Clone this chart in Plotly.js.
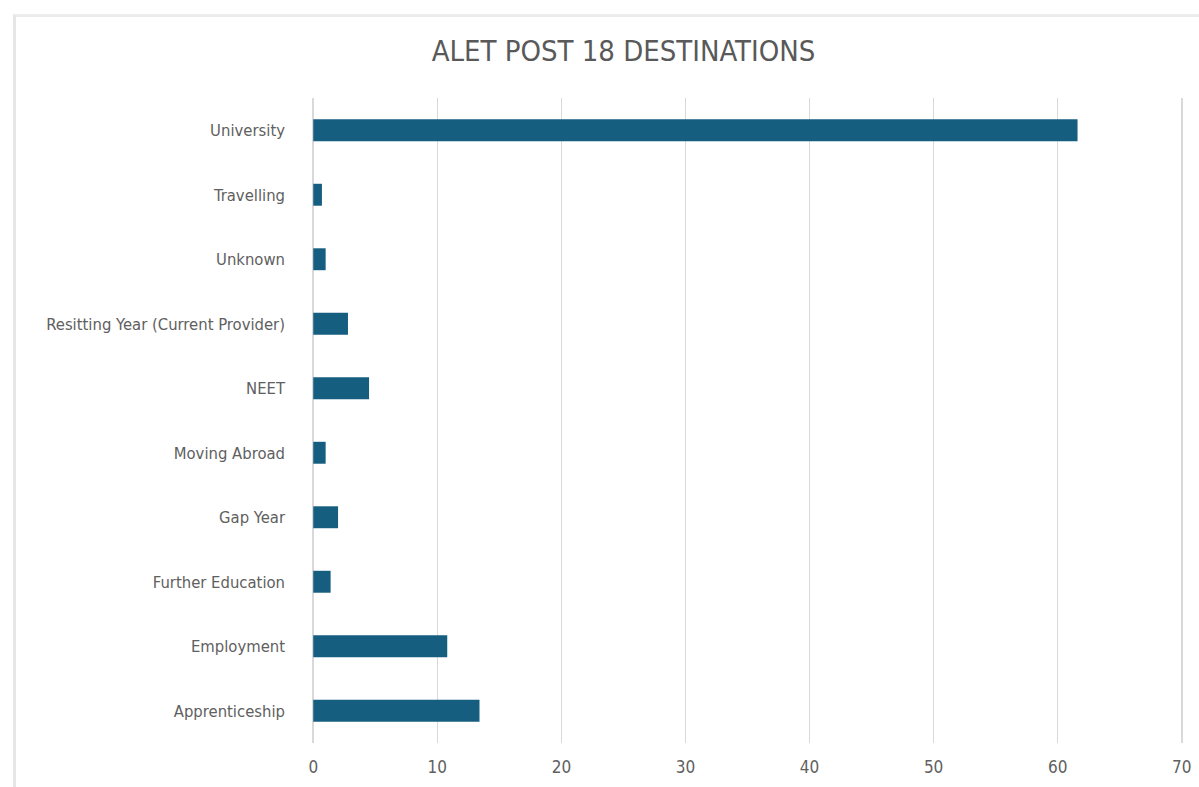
<!DOCTYPE html>
<html>
<head>
<meta charset="utf-8">
<script src="https://cdn.plot.ly/plotly-3.0.1.min.js"></script>
<style>
  html, body { margin: 0; padding: 0; background: #fff; }
  #wrap { position: relative; width: 1199px; height: 787px; }
  #chart { position: absolute; left: 0; top: 0; width: 1199px; height: 787px; }
  #frame { position: absolute; left: 13px; top: 14px; width: 1186px; height: 773px;
           border-top: 3px solid #ececec; border-left: 3px solid #e6e6e6; pointer-events: none; }
</style>
</head>
<body>
<div id="wrap">
  <div id="chart"></div>
  <div id="frame"></div>
</div>
<script>
const categories = [
  "Apprenticeship",
  "Employment",
  "Further Education",
  "Gap Year",
  "Moving Abroad",
  "NEET",
  "Resitting Year (Current Provider)",
  "Unknown",
  "Travelling",
  "University"
];
const values = [13.4, 10.8, 1.4, 2.0, 1.0, 4.5, 2.8, 1.0, 0.7, 61.6];
const xTicks = [0, 10, 20, 30, 40, 50, 60, 70];

const font = "'Liberation Sans Narrow', 'DejaVu Sans Condensed', 'Liberation Sans', sans-serif";

Plotly.newPlot("chart", [{
  type: "bar",
  orientation: "h",
  y: categories,
  x: values,
  width: 0.34,
  marker: { color: "#165e80", line: { width: 0 } },
  hoverinfo: "x+y"
}], {
  width: 1199,
  height: 787,
  paper_bgcolor: "#ffffff",
  plot_bgcolor: "#ffffff",
  margin: { l: 312, r: 16, t: 98, b: 44 },
  title: {
    text: "ALET POST 18 DESTINATIONS",
    x: 0.52, xanchor: "center",
    y: 0.935, yanchor: "middle",
    font: { family: font, size: 29, color: "#595959" }
  },
  xaxis: {
    range: [-0.1, 70.1],
    tickvals: xTicks,
    ticktext: xTicks.map(String),
    showgrid: true,
    gridcolor: "#d9d9d9",
    gridwidth: 1.5,
    zeroline: true,
    zerolinecolor: "#d9d9d9",
    zerolinewidth: 1.5,
    showline: false,
    ticks: "",
    ticklabelstandoff: 12,
    tickfont: { family: font, size: 17, color: "#606060" },
    fixedrange: true
  },
  yaxis: {
    type: "category",
    categoryorder: "array",
    categoryarray: categories,
    showgrid: false,
    zeroline: false,
    showline: false,
    ticks: "",
    ticklabelstandoff: 26,
    tickfont: { family: font, size: 16.5, color: "#606060" },
    fixedrange: true
  },
  showlegend: false,
  bargap: 0.66
}, { displayModeBar: false, staticPlot: true });
</script>
</body>
</html>
